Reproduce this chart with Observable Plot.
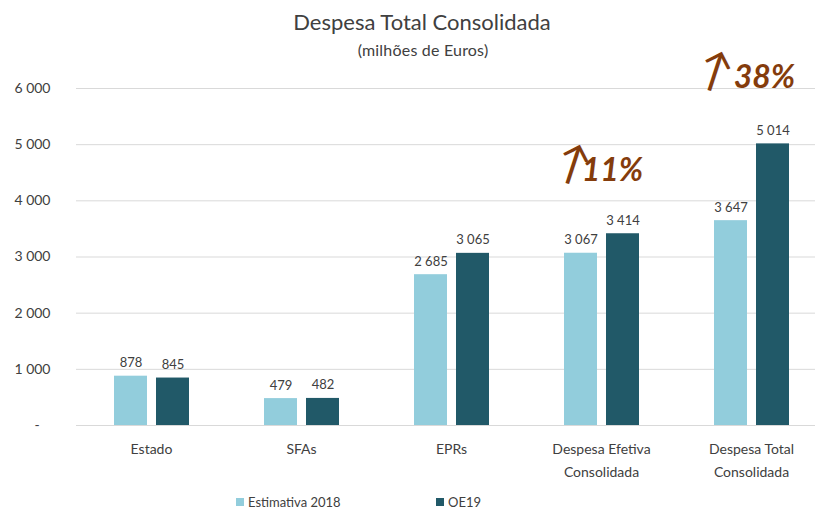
<!DOCTYPE html>
<html>
<head>
<meta charset="utf-8">
<script src="https://cdn.jsdelivr.net/npm/d3@7"></script>
<script src="https://cdn.jsdelivr.net/npm/@observablehq/plot@0.6"></script>
<style>
  html, body { margin: 0; padding: 0; background: #fff; overflow: hidden; width: 815px; height: 510px; }
  body { font-family: Lato, "Open Sans", sans-serif; color: #404040; position: relative; }
  #head { height: 62px; position: relative; }
  #title { position: absolute; left: 0; width: 844px; top: 8px; text-align: center; font-size: 22px; color: #404040; }
  #sub { position: absolute; left: 0; width: 846px; top: 40px; text-align: center; font-size: 16px; color: #404040; letter-spacing: 0.2px; }
  #chart { position: relative; z-index: 2; width: 826px; }
  #legend { position: relative; height: 21px; font-size: 13px; color: #404040; }
  .li { position: absolute; top: 5px; display: flex; align-items: center; line-height: 16px; }
  .sw { width: 8px; height: 8px; margin-right: 4px; }
</style>
</head>
<body>
<div id="head"><div id="title">Despesa Total Consolidada</div><div id="sub">(milhões de Euros)</div></div>
<div id="chart"></div>
<div id="legend"></div>
<script>
const categories = ["Estado", "SFAs", "EPRs", "Despesa Efetiva\nConsolidada", "Despesa Total\nConsolidada"];
const series = ["Estimativa 2018", "OE19"];
const estimativa2018 = [878, 479, 2685, 3067, 3647];
const oe19 = [845, 482, 3065, 3414, 5014];
const yTicks = [0, 1000, 2000, 3000, 4000, 5000, 6000];
const colors = ["#92CDDC", "#215968"];
const annotations = [
  {category: categories[3], label: "11%", y: 4540},
  {category: categories[4], label: "38%", y: 6195}
];

const data = [];
categories.forEach((c, i) => {
  data.push({category: c, series: series[0], value: estimativa2018[i]});
  data.push({category: c, series: series[1], value: oe19[i]});
});

const loc = d3.formatLocale({decimal: ",", thousands: " ", grouping: [3], currency: ["", "€"]});
const fmt = loc.format(",d");

const brown = "#843C0C";

function annotationMarks(a, dxText, dxArrow) {
  return [
    Plot.text([a], {fx: "category", y: "y", text: "label", dx: dxText, fontSize: 32,
      fontWeight: "bold", fontStyle: "italic", fill: brown}),
    Plot.text([a], {fx: "category", y: "y", text: () => "↑", dx: dxArrow, dy: -6, fontSize: 46,
      fill: brown, rotate: 18})
  ];
}

const chart = Plot.plot({
  width: 826,
  height: 427,
  marginLeft: 76,
  marginRight: 0,
  marginTop: 26,
  marginBottom: 64,
  style: {fontFamily: "Lato, 'Open Sans', sans-serif", fontSize: "14px", color: "#404040", overflow: "visible", background: "transparent", maxWidth: "none"},
  fx: {domain: categories, padding: 0, label: null},
  x: {domain: series, axis: null, paddingInner: 0.218, paddingOuter: 0.87},
  y: {domain: [0, 6000], label: null},
  color: {domain: series, range: colors},
  marks: [
    Plot.gridY(yTicks, {stroke: "#D9D9D9", strokeOpacity: 1, strokeWidth: 1}),
    Plot.axisY(yTicks, {tickSize: 0, tickPadding: 26, fontSize: 14, label: null,
      tickFormat: d => d === 0 ? "-\u00a0\u00a0\u00a0" : fmt(d)}),
    Plot.axisFx({anchor: "bottom", tickSize: 0, tickPadding: 12, lineHeight: 1.65, fontSize: 14, label: null}),
    Plot.barY(data, {fx: "category", x: "series", y: "value", fill: "series"}),
    Plot.text(data, {fx: "category", x: "series", y: "value", text: d => fmt(d.value),
      lineAnchor: "bottom", dy: -9, fontSize: 13, fill: "#404040"}),
    ...annotationMarks(annotations[0], 11, -28),
    ...annotationMarks(annotations[1], 13, -36)
  ]
});
document.getElementById("chart").appendChild(chart);

const legend = document.getElementById("legend");
const lx = [236, 436];
series.forEach((s, i) => {
  const el = document.createElement("div");
  el.className = "li";
  el.style.left = lx[i] + "px";
  el.innerHTML = `<span class="sw" style="background:${colors[i]}"></span><span>${s}</span>`;
  legend.appendChild(el);
});
</script>
</body>
</html>
